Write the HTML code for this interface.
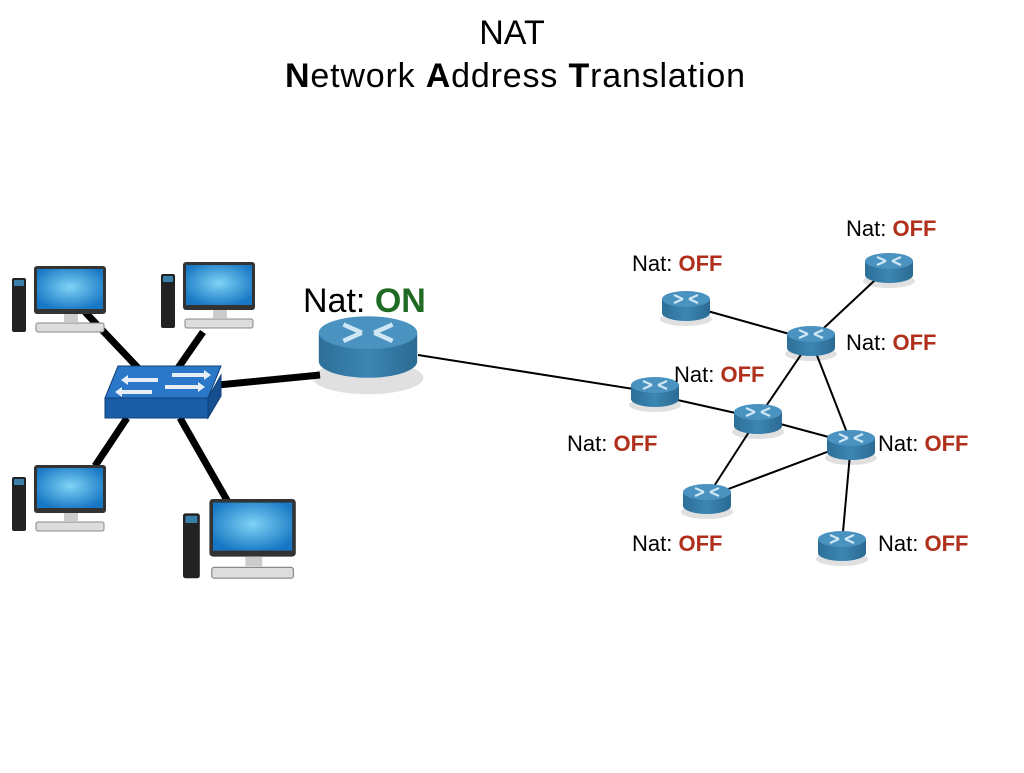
<!DOCTYPE html>
<html><head><meta charset="utf-8"><style>
body{margin:0;background:#fff;}
svg text{font-family:"Liberation Sans",Arial,sans-serif;}
</style></head><body>
<svg width="1024" height="768" viewBox="0 0 1024 768" xmlns="http://www.w3.org/2000/svg">
<defs>
<linearGradient id="rb" x1="0" x2="1"><stop offset="0" stop-color="#2d6f98"/><stop offset="0.5" stop-color="#3b86b3"/><stop offset="1" stop-color="#2b6a92"/></linearGradient>
<radialGradient id="scr" cx="0.5" cy="0.45" r="0.6"><stop offset="0" stop-color="#7fd3f5"/><stop offset="1" stop-color="#1777c4"/></radialGradient>
<g id="r">
<ellipse cx="0" cy="14" rx="26" ry="7" fill="#000" opacity="0.12"/>
<path d="M-24 -6 V8 A24 8 0 0 0 24 8 V-6 Z" fill="url(#rb)"/>
<ellipse cx="0" cy="-6" rx="24" ry="8" fill="#4a93c0"/>
<g stroke="#cfe6f5" stroke-width="2.2" fill="none"><path d="M-12 -10 L-3 -6 M-12 -2 L-3 -6 M12 -10 L3 -6 M12 -2 L3 -6"/></g>
</g>
<g id="pc">
<rect x="0" y="12" width="14" height="54" rx="2" fill="#222"/>
<rect x="2" y="14" width="10" height="6" fill="#3a7fa8"/>
<rect x="22" y="0" width="72" height="48" rx="3" fill="#333"/>
<rect x="25" y="3" width="66" height="40" fill="url(#scr)"/>
<rect x="52" y="48" width="14" height="8" fill="#ccc"/>
<rect x="24" y="57" width="68" height="9" rx="2" fill="#ddd" stroke="#888"/>
</g>
</defs>

<text x="512" y="44" font-size="34" text-anchor="middle">NAT</text>
<text x="515" y="87" font-size="34" text-anchor="middle" textLength="460"><tspan font-weight="bold">N</tspan>etwork <tspan font-weight="bold">A</tspan>ddress <tspan font-weight="bold">T</tspan>ranslation</text>

<g stroke="#000" stroke-width="7">
<line x1="85" y1="312" x2="140" y2="370"/>
<line x1="203" y1="332" x2="178" y2="368"/>
<line x1="218" y1="385" x2="320" y2="375"/>
<line x1="127" y1="418" x2="95" y2="466"/>
<line x1="180" y1="418" x2="228" y2="502"/>
</g>
<g stroke="#000" stroke-width="2">
<line x1="418" y1="355" x2="640" y2="390"/>
<line x1="655" y1="395" x2="758" y2="418"/>
<line x1="758" y1="418" x2="851" y2="443"/>
<line x1="686" y1="305" x2="811" y2="340"/>
<line x1="811" y1="340" x2="889" y2="267"/>
<line x1="811" y1="340" x2="758" y2="418"/>
<line x1="811" y1="340" x2="851" y2="443"/>
<line x1="758" y1="418" x2="707" y2="497"/>
<line x1="707" y1="497" x2="851" y2="443"/>
<line x1="851" y1="443" x2="842" y2="543"/>
</g>

<use href="#pc" x="12" y="266"/>
<use href="#pc" x="161" y="262"/>
<use href="#pc" x="12" y="465"/>
<use href="#pc" x="183" y="499" transform="translate(183 499) scale(1.2) translate(-183 -499)"/>

<polygon points="105,398 208,398 208,418 105,418" fill="#1a5ea8" stroke="#0d3f78"/>
<polygon points="208,398 221,375 221,396 208,418" fill="#154f8f" stroke="#0d3f78"/>
<polygon points="118,366 221,366 208,398 105,398" fill="#2b78c8" stroke="#0d3f78"/>
<g fill="#e8eef5"><polygon points="172,373 204,373 204,370 211,375 204,380 204,377 172,377"/>
<polygon points="165,385 198,385 198,382 205,387 198,392 198,389 165,389"/>
<polygon points="158,378 128,378 128,375 121,380 128,385 128,382 158,382"/>
<polygon points="152,390 122,390 122,387 115,392 122,397 122,394 152,394"/></g>

<g transform="translate(368 345) scale(2.05)">
<ellipse cx="0" cy="16" rx="27" ry="8" fill="#000" opacity="0.12"/>
<path d="M-24 -6 V8 A24 8 0 0 0 24 8 V-6 Z" fill="url(#rb)"/>
<ellipse cx="0" cy="-6" rx="24" ry="8" fill="#4a93c0"/>
<g stroke="#cfe6f5" stroke-width="2.2" fill="none"><path d="M-12 -10 L-3 -6 M-12 -2 L-3 -6 M12 -10 L3 -6 M12 -2 L3 -6"/></g>
</g>

<use href="#r" x="686" y="305"/>
<use href="#r" x="811" y="340"/>
<use href="#r" x="889" y="267"/>
<use href="#r" x="655" y="391"/>
<use href="#r" x="758" y="418"/>
<use href="#r" x="851" y="444"/>
<use href="#r" x="707" y="498"/>
<use href="#r" x="842" y="545"/>

<g font-size="22">
<text x="846" y="236">Nat: <tspan fill="#b0301b" font-weight="bold">OFF</tspan></text>
<text x="632" y="271">Nat: <tspan fill="#b0301b" font-weight="bold">OFF</tspan></text>
<text x="846" y="350">Nat: <tspan fill="#b0301b" font-weight="bold">OFF</tspan></text>
<text x="674" y="382">Nat: <tspan fill="#b0301b" font-weight="bold">OFF</tspan></text>
<text x="567" y="451">Nat: <tspan fill="#b0301b" font-weight="bold">OFF</tspan></text>
<text x="878" y="451">Nat: <tspan fill="#b0301b" font-weight="bold">OFF</tspan></text>
<text x="632" y="551">Nat: <tspan fill="#b0301b" font-weight="bold">OFF</tspan></text>
<text x="878" y="551">Nat: <tspan fill="#b0301b" font-weight="bold">OFF</tspan></text>
</g>
<text x="303" y="312" font-size="34">Nat: <tspan fill="#1f6b24" font-weight="bold">ON</tspan></text>
</svg>
</body></html>
